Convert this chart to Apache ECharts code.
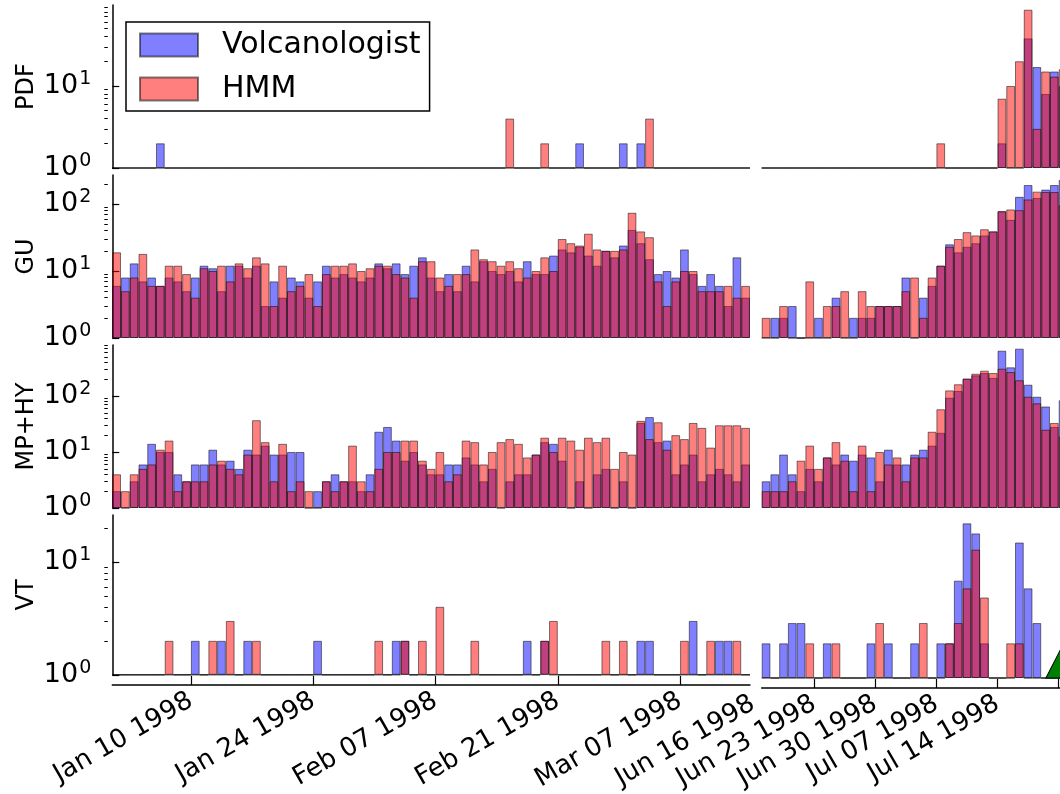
<!DOCTYPE html>
<html><head><meta charset="utf-8">
<script src="https://cdn.jsdelivr.net/npm/echarts@6/dist/echarts.min.js"></script>
<style>html,body{margin:0;padding:0;background:#fff}#c{width:1060px;height:794px}</style>
</head><body><div id="c"></div>
<script>
// ---------- data ----------
const leftStart = '1998-01-01', leftEnd = '1998-03-15';
const rightStart = '1998-06-17';
const leftTicks = ['1998-01-10','1998-01-24','1998-02-07','1998-02-21','1998-03-07'];
const leftLabels = ['1998-01-10','1998-01-24','1998-02-07','1998-02-21','1998-03-07'];
const rightTicks = ['1998-06-23','1998-06-30','1998-07-07','1998-07-14','1998-07-21'];
const rightLabels = ['1998-06-16','1998-06-23','1998-06-30','1998-07-07','1998-07-14'];
const rowNames = ['PDF','GU','MP+HY','VT'];
const seriesNames = ['Volcanologist','HMM'];
const yMax = [97, 271, 814, 26];
const eruptionDates = ['1998-07-22'];

// left period (Jan 1 - Mar 14 1998), daily counts
const pdfVolcL = [1,1,1,1,1,2,1,1,1,1, 1,1,1,1,1,1,1,1,1,1, 1,1,1,1,1,1,1,1,1,1, 1,1,1,1,1,1,1,1,1,1, 1,1,1,1,1,1,1,1,1,1, 1,1,1,2,1,1,1,1,2,1, 2,1,1,1,1,1,1,1,1,1, 1,1,1];
const pdfHmmL  = [1,1,1,1,1,1,1,1,1,1, 1,1,1,1,1,1,1,1,1,1, 1,1,1,1,1,1,1,1,1,1, 1,1,1,1,1,1,1,1,1,1, 1,1,1,1,1,4,1,1,1,2, 1,1,1,1,1,1,1,1,1,1, 1,4,1,1,1,1,1,1,1,1, 1,1,1];
const guVolcL  = [6,8,13,7,8,6,8,7,5,8, 12,11,5,12,12,8,12,3,7,4, 8,7,4,7,12,8,9,8,7,8, 13,11,13,9,12,16,8,5,9,5, 12,7,14,10,9,10,7,14,9,9, 17,21,19,23,17,12,20,16,24,41, 26,15,9,10,8,21,9,6,9,6, 3,16,4];
const guHmmL   = [19,5,8,18,6,6,12,12,9,4, 11,10,12,7,13,11,16,13,3,12, 5,6,9,3,9,12,12,13,10,11, 12,12,9,8,4,14,14,8,6,9, 9,21,15,14,12,14,11,8,10,16, 10,30,26,24,36,21,20,20,21,74, 39,32,7,3,7,10,10,5,5,5, 6,4,6];
const mpVolcL  = [2,1,3,6,14,10,10,4,3,6, 6,11,6,7,5,11,9,13,9,9, 10,10,1,2,3,4,3,3,2,4, 23,28,16,7,10,6,4,4,6,6, 8,6,3,5,1,3,4,4,9,15, 14,7,1,3,1,4,5,1,3,1, 33,42,15,16,4,6,9,3,4,5, 4,3,6];
const mpHmmL   = [4,2,4,5,6,11,16,2,3,3, 3,6,7,5,4,9,37,15,3,14, 2,3,2,1,3,2,3,13,3,2, 5,10,10,16,16,7,5,10,3,4, 16,15,6,10,15,17,14,8,9,18, 10,18,16,11,18,15,18,5,10,9, 36,17,34,11,20,17,33,27,12,30, 30,30,27];
const vtVolcL  = [1,1,1,1,1,1,1,1,1,2, 1,1,2,1,1,2,1,1,1,1, 1,1,1,2,1,1,1,1,1,1, 1,1,2,2,1,1,1,1,1,1, 1,1,1,1,1,1,1,2,1,2, 1,1,1,1,1,1,1,1,1,1, 2,2,1,1,1,1,3,1,1,2, 2,1,1];
const vtHmmL   = [1,1,1,1,1,1,2,1,1,1, 1,2,1,3,1,1,2,1,1,1, 1,1,1,1,1,1,1,1,1,1, 2,1,1,2,1,2,1,4,1,1, 1,2,1,1,1,1,1,1,1,2, 3,1,1,1,1,1,2,1,2,1, 1,1,1,1,1,2,1,1,2,1, 1,2,1];

// right period (Jun 17 - Jul 21 1998), daily counts
const pdfVolcR = [1,1,1,1,1,1,1,1,1,1, 1,1,1,1,1,1,1,1,1,1, 1,1,1,1,1,1,1,2,1,1, 38,17,8,15,10];
const pdfHmmR  = [1,1,1,1,1,1,1,1,1,1, 1,1,1,1,1,1,1,1,1,1, 2,1,1,1,1,1,1,7,10,20, 85,3,15,13,16];
const guVolcR  = [1,2,2,3,1,1,2,1,4,1, 2,2,2,3,3,3,8,1,4,6, 12,25,19,23,26,34,39,78,58,128, 192,123,164,192,228];
const guHmmR   = [2,1,3,1,1,7,1,3,3,5, 1,5,3,3,3,3,5,8,2,8, 12,23,30,38,34,42,39,78,83,81, 117,153,151,151,96];
const mpVolcR  = [3,4,9,4,2,5,3,8,6,9, 7,9,8,3,11,6,6,9,11,13, 22,93,123,204,234,257,210,644,325,700, 159,97,65,28,84];
const mpHmmR   = [2,2,2,3,7,13,5,8,15,7, 2,13,2,10,6,8,3,8,8,23, 58,126,162,204,250,283,257,307,268,191, 97,74,25,33,19];
const vtVolcR  = [2,1,2,3,3,1,1,2,1,1, 1,1,2,1,2,1,1,2,1,1, 2,2,7,22,18,2,1,1,1,15, 6,3,1,1,1];
const vtHmmR   = [1,1,1,1,1,2,1,1,2,1, 1,1,1,3,1,1,1,1,3,1, 1,2,3,6,13,5,1,1,2,2, 1,1,1,1,1];

// ---------- build ----------
const DAY = 86400000;
const EPOCH = Date.UTC(1998,0,1);
function d(s){const p=s.split('-').map(Number);return (Date.UTC(p[0],p[1]-1,p[2])-EPOCH)/DAY;}
const MON=['Jan','Feb','Mar','Apr','May','Jun','Jul','Aug','Sep','Oct','Nov','Dec'];
function fmtDate(v){const t=new Date(EPOCH+Math.round(v)*DAY);return MON[t.getUTCMonth()]+' '+String(t.getUTCDate()).padStart(2,'0')+' '+t.getUTCFullYear();}
const FONT='DejaVu Sans';
const CANVAS_W=1060;

const panels = [
  [[pdfVolcL,pdfHmmL],[pdfVolcR,pdfHmmR]],
  [[guVolcL,guHmmL],[guVolcR,guHmmR]],
  [[mpVolcL,mpHmmL],[mpVolcR,mpHmmR]],
  [[vtVolcL,vtHmmL],[vtVolcR,vtHmmR]]
];
const PX_PER_DAY = 8.735;
const colLeft=[112.3, 761.7];
const colWidth=[(d(leftEnd)-d(leftStart))*PX_PER_DAY, CANVAS_W-761.7];
const colStart=[d(leftStart), d(rightStart)];
const colEnd=[d(leftEnd), d(rightStart)+colWidth[1]/PX_PER_DAY];
const colTicks=[leftTicks,rightTicks];
const rowTop=[5,175,345,515], rowH=163;

const grids=[],xAxes=[],yAxes=[],series=[];
const fills=['rgba(0,0,255,0.5)','rgba(255,0,0,0.5)'];
function majorVals(max){const o=[];for(let e=0;e<4;e++){const v=Math.pow(10,e);if(v<=max)o.push(v);}return o;}
function minorVals(max){const o=[];for(let e=0;e<4;e++)for(let k=2;k<10;k++){const v=k*Math.pow(10,e);if(v<max)o.push(v);}return o;}
const LABEL_FS=26;

for(let r=0;r<4;r++){
  for(let c=0;c<2;c++){
    const gi=grids.length;
    grids.push({left:colLeft[c],top:rowTop[r],width:colWidth[c],height:rowH});
    const showX = r===3;
    xAxes.push({
      gridIndex:gi,type:'value',min:colStart[c],max:colEnd[c],
      show:showX,offset:10,
      axisLine:{show:true,onZero:false,lineStyle:{color:'#000',width:1.5}},
      axisTick:{show:true,inside:true,length:9,lineStyle:{color:'#000',width:1.2},customValues:colTicks[c].map(d)},
      axisLabel:{show:c===0,rotate:30,fontSize:LABEL_FS,fontFamily:FONT,color:'#000',margin:14,
        customValues:leftLabels.map(d),formatter:fmtDate,hideOverlap:false},
      splitLine:{show:false}
    });
    const yi=yAxes.length;
    yAxes.push({
      gridIndex:gi,type:'log',logBase:10,min:1,max:yMax[r],show:c===0,offset:8,position:'left',
      name:c===0?rowNames[r]:'',nameLocation:'middle',nameGap:66,nameRotate:90,nameMoveOverlap:false,
      nameTextStyle:{fontSize:24,fontFamily:FONT,color:'#000'},
      axisLine:{show:true,lineStyle:{color:'#000',width:1.5}},
      axisTick:{show:true,inside:true,length:7,lineStyle:{color:'#000',width:1.2},customValues:majorVals(yMax[r])},
      axisLabel:{show:true,margin:13,color:'#000',fontFamily:FONT,customValues:majorVals(yMax[r]),
        formatter:v=>'{b|10}{s|'+Math.round(Math.log10(v))+'}',
        rich:{b:{fontSize:27,fontFamily:FONT,color:'#000'},s:{fontSize:19,fontFamily:FONT,color:'#000',padding:[0,0,14,1]}}},
      splitLine:{show:false}
    });
    // minor ticks
    yAxes.push({
      gridIndex:gi,type:'log',logBase:10,min:1,max:yMax[r],show:c===0,offset:8,position:'left',
      axisLine:{show:false},
      axisTick:{show:true,inside:true,length:3.5,lineStyle:{color:'#000',width:1},customValues:minorVals(yMax[r])},
      axisLabel:{show:false},splitLine:{show:false}
    });
    const start=colStart[c];
    panels[r][c].forEach((arr,si)=>{
      series.push({
        name:seriesNames[si],type:'bar',xAxisIndex:gi,yAxisIndex:yi,
        barWidth:'100%',barGap:'-100%',barCategoryGap:'0%',
        itemStyle:{color:fills[si],borderColor:'rgba(0,0,0,0.5)',borderWidth:1},
        emphasis:{disabled:true},animation:false,
        data:arr.map((v,i)=>[start+i+0.5,v])
      });
    });
    if(r===3&&c===1){
      series.push({
        name:'eruption',type:'scatter',xAxisIndex:gi,yAxisIndex:yi,
        symbol:'triangle',symbolSize:[43,42],symbolOffset:[0,'-50%'],clip:false,z:5,
        itemStyle:{color:'#008000',borderColor:'#000',borderWidth:1,opacity:1},
        animation:false,
        data:eruptionDates.map(s=>[d(s),1])
      });
    }
  }
}
// label-only axis for the right period (its first label sits left of the bars)
{
  const gi=grids.length;
  const lblStart=d(rightLabels[0]);
  const lblLeft=colLeft[1]-(colStart[1]-lblStart)*PX_PER_DAY;
  const lblW=CANVAS_W-lblLeft;
  grids.push({left:lblLeft,top:rowTop[3],width:lblW,height:rowH});
  xAxes.push({
    gridIndex:gi,type:'value',min:lblStart,max:lblStart+lblW/PX_PER_DAY,offset:10,
    axisLine:{show:false},axisTick:{show:false},splitLine:{show:false},
    axisLabel:{show:true,rotate:30,fontSize:LABEL_FS,fontFamily:FONT,color:'#000',margin:14,
      customValues:rightLabels.map(d),formatter:fmtDate,hideOverlap:false}
  });
  yAxes.push({gridIndex:gi,type:'value',show:false,min:0,max:1});
}

const chart=echarts.init(document.getElementById('c'),null,{renderer:'canvas'});
chart.setOption({
  animation:false,
  backgroundColor:'#fff',
  grid:grids,xAxis:xAxes,yAxis:yAxes,series:series,
  legend:{
    data:seriesNames,orient:'vertical',left:126,top:22,
    itemWidth:58,itemHeight:23,itemGap:8,icon:'rect',
    padding:[5,9,4,13],borderColor:'#000',borderWidth:1.5,backgroundColor:'#fff',
    textStyle:{fontSize:30,lineHeight:36,fontFamily:FONT,color:'#000',padding:[0,0,0,19]},
    selectedMode:false
  }
});
</script></body></html>
